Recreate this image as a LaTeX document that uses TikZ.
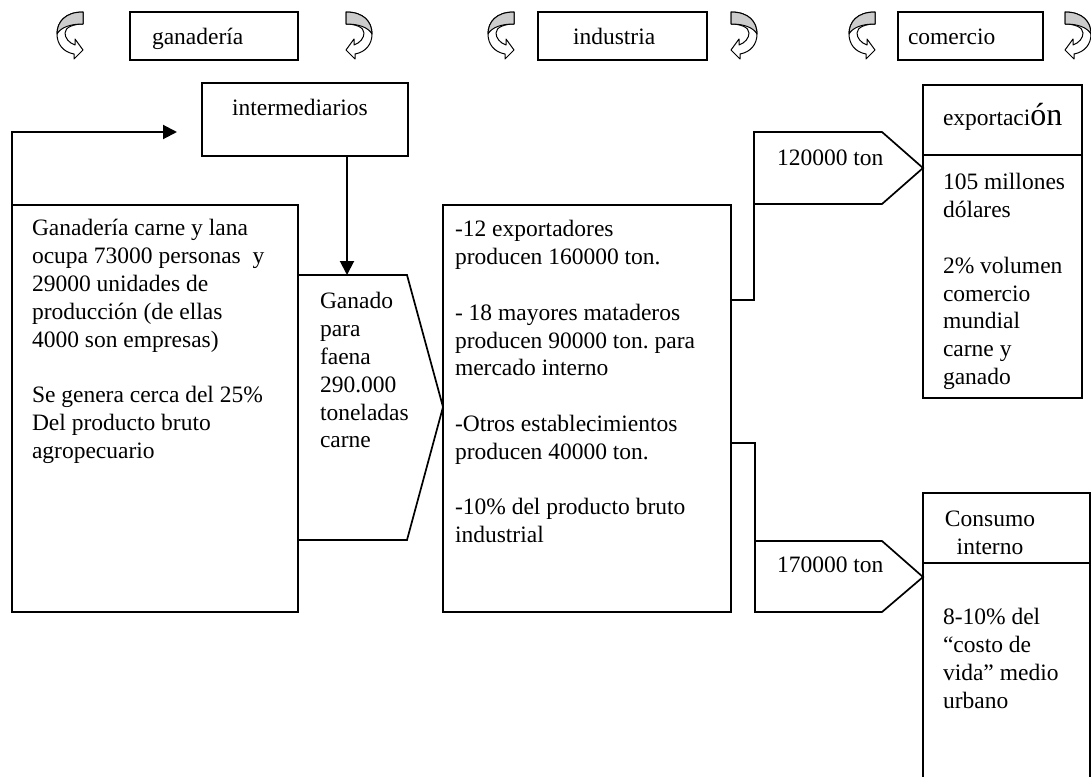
\documentclass[tikz,border=0pt]{standalone}
\usepackage{fontspec}
\setmainfont{Liberation Serif}
\usetikzlibrary{arrows.meta}
\begin{document}
\frenchspacing
\begin{tikzpicture}[x=1pt,y=-1pt,
  box/.style={draw, line width=1.7pt, inner sep=0pt, outer sep=0pt, anchor=north west},
  txt/.style={inner sep=0pt, outer sep=0pt, font=\fontsize{23.5}{27.8}\selectfont\frenchspacing},
  blk/.style={txt, align=left, anchor=north west},
  ln/.style={txt, anchor=base west},
  conn/.style={line width=2pt},
  arr/.style={conn, -{Triangle[length=14pt,width=14pt]}},
  shp/.style={draw, line width=1.7pt, line join=miter},
  curv/.pic={
    \draw[line width=1pt, fill=white, line join=round]
      (26,0) .. controls (8,0) and (0,10) .. (0,22)
      .. controls (0,32) and (6,40) .. (17,42) -- (17,47) -- (26,38) -- (18,27) -- (18,33)
      .. controls (12,31) and (8,26) .. (8,21)
      .. controls (8,15) and (17,12) .. (26,12) -- cycle;
    \draw[line width=1pt, fill=gray!40, line join=round]
      (26,0) .. controls (8,0) and (0,10) .. (0,22)
      .. controls (4,15) and (14,12) .. (26,12) -- cycle;
  }]
\fill[white] (0,0) rectangle (1091,776);
\useasboundingbox (0,0) rectangle (1091,776);

% top row
\node[box, minimum width=168pt, minimum height=48pt] (tg) at (130,12) {};
\node[box, minimum width=169pt, minimum height=48pt] (ti) at (538,12) {};
\node[box, minimum width=145pt, minimum height=48pt] (tc) at (898,12) {};
\node[ln] (tgt) at (152,45) {ganadería};
\node[ln] (tit) at (573,45) {industria};
\node[ln] (tct) at (908,45) {comercio};
\pic at (57,12) {curv};
\pic[xscale=-1] at (372,12) {curv};
\pic at (488,12) {curv};
\pic[xscale=-1] at (757,12) {curv};
\pic at (849,12) {curv};
\pic[xscale=-1] at (1091,12) {curv};

% boxes
\node[box, minimum width=286pt, minimum height=407pt] (gan) at (12,205) {};
\node[box, minimum width=206pt, minimum height=73pt] (inter) at (202,83) {};
\node[box, minimum width=288pt, minimum height=407pt] (ind) at (443,205) {};
\node[box, minimum width=159pt, minimum height=313pt] (exp) at (923,85) {};
\node[box, minimum width=167pt, minimum height=300pt] (cons) at (923,493) {};
\draw[line width=1.7pt] (exp.west |- 0,155) -- (exp.east |- 0,155);
\draw[line width=1.7pt] (cons.west |- 0,563) -- (cons.east |- 0,563);

% pentagons
\draw[shp] (298,275) -- (407,275) -- (443,407) -- (407,540) -- (298,540) -- cycle;
\coordinate (gtop) at (347,275);
\draw[shp] (754,132) -- (882,132) -- (923,168) -- (882,204) -- (754,204) -- cycle;
\coordinate (p1) at (754,204);
\draw[shp] (755,541) -- (882,541) -- (923,577) -- (882,612) -- (755,612) -- cycle;
\coordinate (p2) at (755,541);

% connectors
\coordinate (lend) at (177,132);
\draw[arr] (gan.north west) |- (lend);
\draw[arr] (inter.south -| gtop) -- (gtop);
\draw[conn] (ind.east |- 0,300) -| (p1);
\draw[conn] (ind.east |- 0,443) -| (p2);

% texts
\node[ln] (intert) at (232,115) {intermediarios};
\node[blk] (gant) at (32,216.5) {\strut Ganadería carne y lana\\ocupa 73000 personas\ \ y\\29000 unidades de\\producción (de ellas\\4000 son empresas)\\[27.8pt]Se genera cerca del 25\%\\Del producto bruto\\agropecuario};
\node[blk] (gadt) at (320,289.5) {\strut Ganado\\para\\faena\\290.000\\toneladas\\carne};
\node[blk] (indt) at (455,217.5) {\strut -12 exportadores\\producen 160000 ton.\\[27.8pt]- 18 mayores mataderos\\producen 90000 ton. para\\mercado interno\\[27.8pt]-Otros establecimientos\\producen 40000 ton.\\[27.8pt]-10\% del producto bruto\\industrial};
\node[ln] (t1) at (777,165) {120000 ton};
\node[ln] (t2) at (777,572) {170000 ton};
\node[ln] (expt) at (943,125) {exportaci{\fontsize{32}{32}\selectfont ón}};
\node[blk] (expd) at (943,170.5) {\strut 105 millones\\dólares\\[27.8pt]2\% volumen\\comercio\\mundial\\carne y\\ganado};
\node[txt, align=center, anchor=north] (const) at (990,507.5) {\strut Consumo\\interno};
\node[blk] (consd) at (943,605.5) {\strut 8-10\% del\\“costo de\\vida” medio\\urbano};
\end{tikzpicture}
\end{document}
